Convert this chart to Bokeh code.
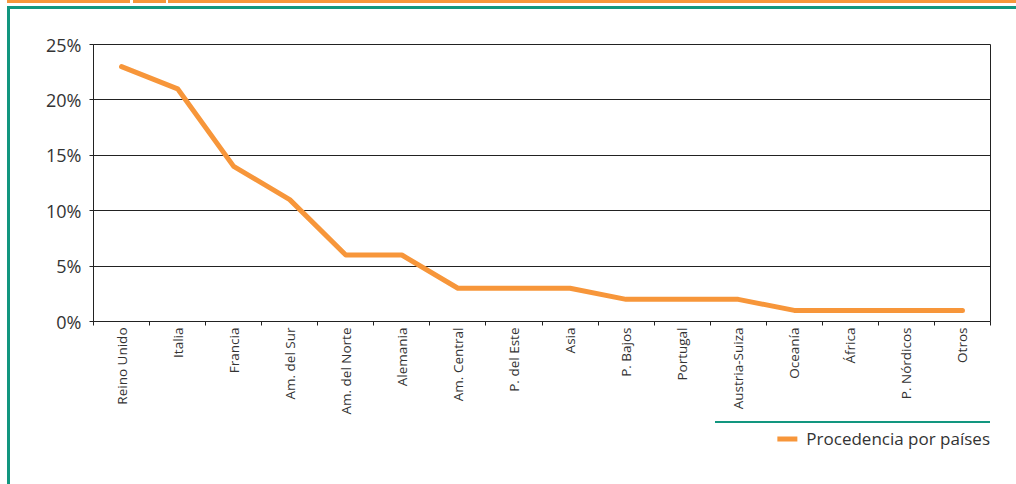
import math
from bokeh.plotting import figure
from bokeh.layouts import column
from bokeh.models import (FixedTicker, PrintfTickFormatter, Range1d,
                          Legend, LegendItem, GlobalInlineStyleSheet)
from bokeh.embed import file_html
from bokeh.resources import INLINE

categories = ["Reino Unido", "Italia", "Francia", "Am. del Sur", "Am. del Norte",
              "Alemania", "Am. Central", "P. del Este", "Asia", "P. Bajos",
              "Portugal", "Austria-Suiza", "Oceanía", "África", "P. Nórdicos", "Otros"]
values = [23, 21, 14, 11, 6, 6, 3, 3, 3, 2, 2, 2, 1, 1, 1, 1]
y_ticks = [0, 5, 10, 15, 20, 25]
series_name = "Procedencia por países"

ORANGE = "#F7963A"
GREEN = "#12967F"
TEXT = "#333333"
FONT = "Open Sans"

W, H = 1016, 484
FL, FR, FT, FB = 93, 990, 44, 321
H1 = 421          # main chart height (frame + x-axis labels)
H2 = 34           # legend strip height

# page decoration (orange strip, green frame, green rule above legend)
def bar(x, y, w, h, c):
    return (f"linear-gradient({c},{c})", f"{x}px {y}px", f"{w}px {h}px")

bars = [
    bar(7, 0, 123, 3, ORANGE), bar(133, 0, 33, 3, ORANGE), bar(168, 0, W - 168, 3, ORANGE),
    bar(7, 6, W - 7, 3, GREEN), bar(7, 6, 3, H - 6, GREEN), bar(715, 421, 275, 2, GREEN),
]
css = ("html, body { margin: 0; padding: 0; overflow: hidden; }\n"
       f"body {{ min-height: {H}px; background-color: white; background-repeat: no-repeat;"
       f" background-image: {', '.join(b[0] for b in bars)};"
       f" background-position: {', '.join(b[1] for b in bars)};"
       f" background-size: {', '.join(b[2] for b in bars)}; }}")

p = figure(width=W, height=H1, output_backend="svg", toolbar_location=None,
           x_range=Range1d(0, len(categories)), y_range=Range1d(0, 25),
           min_border_left=FL, min_border_right=W - FR,
           min_border_top=FT, min_border_bottom=H1 - FB)
p.background_fill_color = "white"
p.border_fill_color = None
p.outline_line_color = "#222222"
p.outline_line_width = 1

xs = [i + 0.5 for i in range(len(categories))]
r = p.line(xs, values, line_color=ORANGE, line_width=5, line_join="round", line_cap="round")

# x axis: labels at centers, ticks at category boundaries
xa = p.xaxis[0]
xa.ticker = FixedTicker(ticks=xs, minor_ticks=list(range(len(categories) + 1)))
xa.major_label_overrides = {x: c for x, c in zip(xs, categories)}
xa.major_label_orientation = math.pi / 2
xa.major_tick_out = 0
xa.major_tick_in = 0
xa.minor_tick_out = 4
xa.minor_tick_in = 0
xa.minor_tick_line_color = "#222222"
xa.axis_line_color = "#222222"
xa.major_label_text_font = FONT
xa.major_label_text_font_size = "13.5px"
xa.major_label_text_color = TEXT
xa.major_label_standoff = 2

ya = p.yaxis[0]
ya.ticker = FixedTicker(ticks=y_ticks)
ya.formatter = PrintfTickFormatter(format="%d%%")
ya.major_tick_out = 4
ya.major_tick_in = 0
ya.minor_tick_line_color = None
ya.axis_line_color = "#222222"
ya.major_tick_line_color = "#222222"
ya.major_label_text_font = FONT
ya.major_label_text_font_size = "18px"
ya.major_label_text_color = TEXT
ya.major_label_standoff = 8

p.xgrid.grid_line_color = None
p.ygrid.grid_line_color = "#222222"
p.ygrid.ticker = FixedTicker(ticks=y_ticks)

# legend strip below the chart (proxy line of the same style, outside the strip's view)
p2 = figure(width=W, height=H2, output_backend="svg", toolbar_location=None,
            x_axis_location=None, y_axis_location=None,
            x_range=Range1d(0, 1), y_range=Range1d(0, 1),
            min_border=0, min_border_left=0, min_border_right=0,
            min_border_top=0, min_border_bottom=0)
p2.grid.grid_line_color = None
p2.outline_line_color = None
p2.background_fill_color = None
p2.border_fill_color = None
r2 = p2.line(x=[-3, -2], y=[-3, -2], line_color=ORANGE, line_width=5, line_cap="round")

legend = Legend(items=[LegendItem(label=series_name, renderers=[r2])],
                location="right", orientation="horizontal",
                border_line_color=None, background_fill_alpha=0,
                label_text_font=FONT, label_text_font_size="17px",
                label_text_color=TEXT, glyph_width=20, glyph_height=20,
                label_standoff=9, padding=0, margin=0)
p2.add_layout(legend, "center")

layout = column(p, p2, spacing=0)
layout.stylesheets = [GlobalInlineStyleSheet(css=css)]

open("out.html", "w").write(file_html(layout, INLINE))
